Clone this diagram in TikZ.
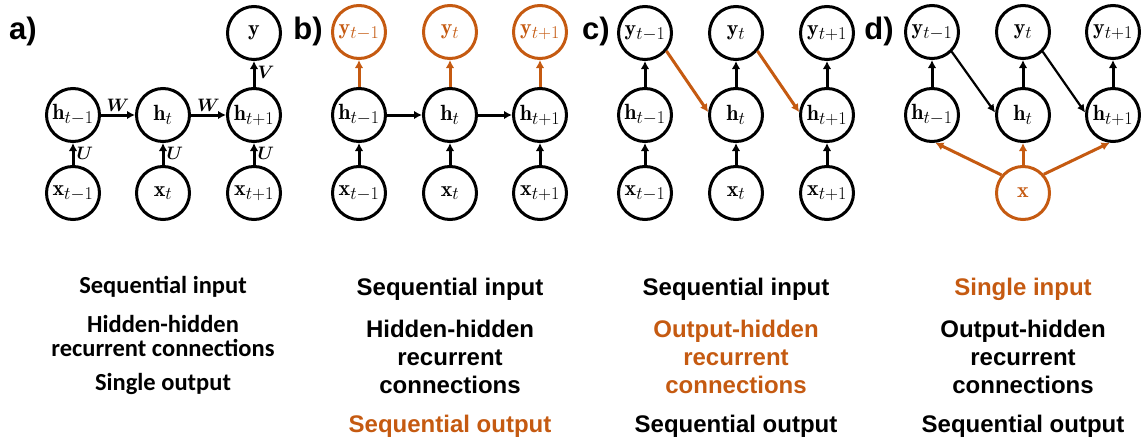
\documentclass[tikz,border=0pt]{standalone}
\usepackage{fix-cm}
\usepackage{amsmath}
\usepackage{fontspec}
\newfontfamily\helv{Liberation Sans}
\newfontfamily\calib{Carlito}
\usetikzlibrary{arrows.meta}
\definecolor{org}{RGB}{197,90,17}
\DeclareMathSizes{22}{22}{18}{14}
\tikzset{
  nd/.style={circle, draw, line width=3pt, minimum size=53pt, inner sep=0pt, font=\fontsize{22}{24}\selectfont},
  ond/.style={nd, draw=org, text=org},
  arr/.style={line width=3pt, -{Latex[length=8pt,width=8.5pt]}},
  thinarr/.style={line width=2.2pt, -{Latex[length=8pt,width=8pt]}},
  oarr/.style={arr, draw=org},
  wlab/.style={font=\fontsize{18}{20}\selectfont, inner sep=2pt},
  plbl/.style={font=\helv\bfseries\fontsize{31}{31}\selectfont, inner sep=0pt},
  txt/.style={font=\helv\bfseries\fontsize{24}{28}\selectfont, align=center, inner sep=0pt},
  txta/.style={font=\calib\bfseries\fontsize{24.5}{24}\selectfont, align=center, inner sep=0pt},
}
\begin{document}
\begin{tikzpicture}[x=1pt,y=-1pt]
\useasboundingbox (0,0) rectangle (1141,442);
% panel labels
\node[plbl] (la) at (23,31) {a)};
\node[plbl] (lb) at (308,31) {b)};
\node[plbl] (lc) at (596,31) {c)};
\node[plbl] (ld) at (879,31) {d)};
% ---------- panel a
\node[nd] (ay)  at (254,33)  {$\mathbf{y}$};
\node[nd] (ah1) at (73,115)  {$\mathbf{h}_{t-1}$};
\node[nd] (ah2) at (163,115) {$\mathbf{h}_{t}$};
\node[nd] (ah3) at (254,115) {$\mathbf{h}_{t+1}$};
\node[nd] (ax1) at (73,193)  {$\mathbf{x}_{t-1}$};
\node[nd] (ax2) at (163,193) {$\mathbf{x}_{t}$};
\node[nd] (ax3) at (254,193) {$\mathbf{x}_{t+1}$};
\draw[arr] (ah1) -- node[above, wlab] {$\boldsymbol{W}$} (ah2);
\draw[arr] (ah2) -- node[above, wlab] {$\boldsymbol{W}$} (ah3);
\draw[arr] (ax1) -- node[right, wlab, pos=0.55] {$\boldsymbol{U}$} (ah1);
\draw[arr] (ax2) -- node[right, wlab, pos=0.55] {$\boldsymbol{U}$} (ah2);
\draw[arr] (ax3) -- node[right, wlab, pos=0.55] {$\boldsymbol{U}$} (ah3);
\draw[arr] (ah3) -- node[right, wlab, pos=0.55] {$\boldsymbol{V}$} (ay);
% ---------- panel b
\node[ond] (by1) at (359,32)  {$\mathbf{y}_{t-1}$};
\node[ond] (by2) at (450,32)  {$\mathbf{y}_{t}$};
\node[ond] (by3) at (540,32)  {$\mathbf{y}_{t+1}$};
\node[nd]  (bh1) at (359,115) {$\mathbf{h}_{t-1}$};
\node[nd]  (bh2) at (450,115) {$\mathbf{h}_{t}$};
\node[nd]  (bh3) at (540,115) {$\mathbf{h}_{t+1}$};
\node[nd]  (bx1) at (359,193) {$\mathbf{x}_{t-1}$};
\node[nd]  (bx2) at (450,193) {$\mathbf{x}_{t}$};
\node[nd]  (bx3) at (540,193) {$\mathbf{x}_{t+1}$};
\draw[arr] (bx1) -- (bh1);
\draw[arr] (bx2) -- (bh2);
\draw[arr] (bx3) -- (bh3);
\draw[arr] (bh1) -- (bh2);
\draw[arr] (bh2) -- (bh3);
\draw[oarr] (bh1) -- (by1);
\draw[oarr] (bh2) -- (by2);
\draw[oarr] (bh3) -- (by3);
% ---------- panel c
\node[nd] (cy1) at (645,33)  {$\mathbf{y}_{t-1}$};
\node[nd] (cy2) at (736,33)  {$\mathbf{y}_{t}$};
\node[nd] (cy3) at (827,33)  {$\mathbf{y}_{t+1}$};
\node[nd] (ch1) at (645,115) {$\mathbf{h}_{t-1}$};
\node[nd] (ch2) at (736,115) {$\mathbf{h}_{t}$};
\node[nd] (ch3) at (827,115) {$\mathbf{h}_{t+1}$};
\node[nd] (cx1) at (645,193) {$\mathbf{x}_{t-1}$};
\node[nd] (cx2) at (736,193) {$\mathbf{x}_{t}$};
\node[nd] (cx3) at (827,193) {$\mathbf{x}_{t+1}$};
\draw[arr] (cx1) -- (ch1);
\draw[arr] (cx2) -- (ch2);
\draw[arr] (cx3) -- (ch3);
\draw[arr] (ch1) -- (cy1);
\draw[arr] (ch2) -- (cy2);
\draw[arr] (ch3) -- (cy3);
\draw[oarr] (cy1.-40) -- (ch2.174);
\draw[oarr] (cy2.-40) -- (ch3.174);
% ---------- panel d
\node[nd] (dy1) at (932,32)  {$\mathbf{y}_{t-1}$};
\node[nd] (dy2) at (1023,32) {$\mathbf{y}_{t}$};
\node[nd] (dy3) at (1113,32) {$\mathbf{y}_{t+1}$};
\node[nd] (dh1) at (932,115) {$\mathbf{h}_{t-1}$};
\node[nd] (dh2) at (1023,115) {$\mathbf{h}_{t}$};
\node[nd] (dh3) at (1113,115) {$\mathbf{h}_{t+1}$};
\node[ond] (dx) at (1023,193) {$\mathbf{x}$};
\draw[arr] (dh1) -- (dy1);
\draw[arr] (dh2) -- (dy2);
\draw[arr] (dh3) -- (dy3);
\draw[thinarr] (dy1.-45) -- (dh2.175);
\draw[thinarr] (dy2.-45) -- (dh3.175);
\draw[oarr] (dx.140) -- (dh1.-83);
\draw[oarr] (dx) -- (dh2);
\draw[oarr] (dx.42) -- (dh3.-97);
% ---------- texts
\node[txta] (ta1) at (163,287) {Sequential input};
\node[txta] (ta2) at (163,336) {Hidden-hidden\\recurrent connections};
\node[txta] (ta3) at (163,384) {Single output};
\node[txt] (tb1) at (450,289) {Sequential input};
\node[txt] (tb2) at (450,357) {Hidden-hidden\\recurrent\\connections};
\node[txt, text=org] (tb3) at (450,426) {Sequential output};
\node[txt] (tc1) at (736,289) {Sequential input};
\node[txt, text=org] (tc2) at (736,357) {Output-hidden\\recurrent\\connections};
\node[txt] (tc3) at (736,426) {Sequential output};
\node[txt, text=org] (td1) at (1023,289) {Single input};
\node[txt] (td2) at (1023,357) {Output-hidden\\recurrent\\connections};
\node[txt] (td3) at (1023,426) {Sequential output};
\end{tikzpicture}
\end{document}
